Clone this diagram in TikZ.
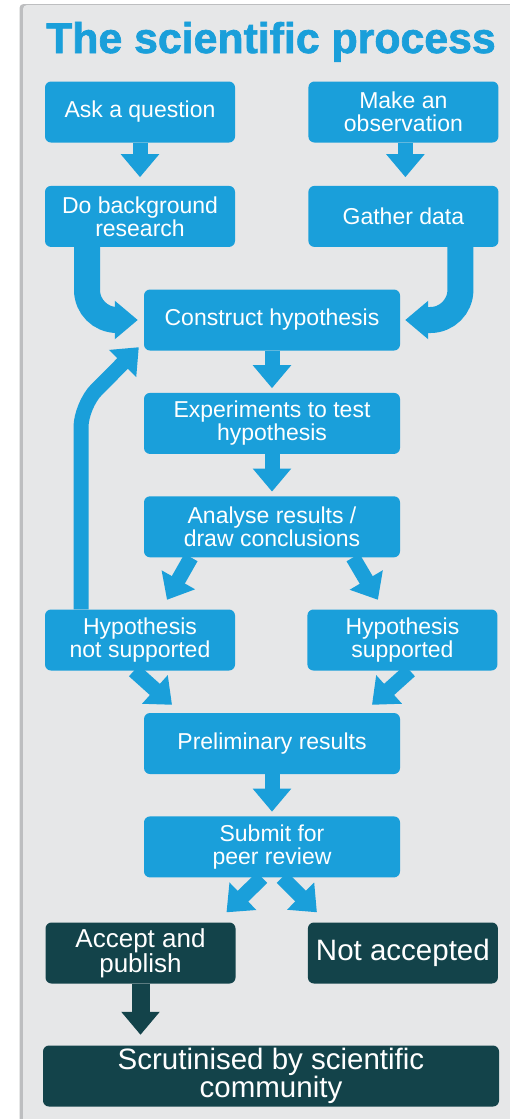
\documentclass[tikz,border=0pt]{standalone}
\usepackage{fontspec}
\setmainfont{Liberation Sans}
\newfontfamily\titlefont[BoldFeatures={FakeBold=1.6}]{Liberation Sans}
\usetikzlibrary{positioning,arrows.meta,calc}
\definecolor{sciblue}{HTML}{1A9FDA}
\definecolor{sciteal}{HTML}{13434A}
\definecolor{panelgray}{HTML}{E6E7E8}
\definecolor{paneledge}{HTML}{BDBEC0}

\begin{document}
\begin{tikzpicture}[x=1pt,y=-1pt,
  box/.style={fill=sciblue,text=white,rounded corners=6pt,inner sep=0pt,align=center,
    minimum width=190pt,minimum height=61pt,font=\fontsize{23}{23}\selectfont},
  wide/.style={minimum width=256pt},
  darkbox/.style={box,fill=sciteal,font=\fontsize{26}{22}\selectfont},
  flow/.style={draw=sciblue,line width=15pt,-{Triangle[width=37pt,length=23pt]}},
  curvedflow/.style={flow,line width=26pt,rounded corners=30pt},
  darkflow/.style={flow,draw=sciteal,line width=18pt}]
\useasboundingbox (0,0) rectangle (509,1119);
\fill[white] (0,0) rectangle (509,1119);
\fill[paneledge,rounded corners=4pt] (19.5,4) rectangle (530,1130);
\fill[panelgray,rounded corners=4pt] (23,5) rectangle (530,1130);

\node[anchor=base west,inner sep=0pt,text=sciblue,font=\titlefont\bfseries\fontsize{42.8}{44}\selectfont] (title) at (46,53) {The scientific process};

\node[box] (ask) at (140,112) {Ask a question};
\node[box,right=73pt of ask] (observe) {Make an\\observation};
\node[box,below=43pt of ask] (background) {Do background\\research};
\node[box,below=43pt of observe] (gather) {Gather data};
\node[box,wide] (construct) at (272,320) {Construct hypothesis};
\node[box,wide,below=42pt of construct] (experiments) {Experiments to test\\hypothesis};
\node[box,wide,below=42pt of experiments] (analyse) {Analyse results /\\draw conclusions};
\node[box] (notsupp) at (140,640) {Hypothesis\\not supported};
\node[box,right=72pt of notsupp] (supp) {Hypothesis\\supported};
\node[box,wide] (prelim) at (272,743.5) {Preliminary results};
\node[box,wide,below=42pt of prelim] (submit) {Submit for\\peer review};
\node[darkbox] (accept) at (140.5,953) {Accept and\\publish};
\node[darkbox,right=72pt of accept,font=\fontsize{29.5}{29.5}\selectfont] (notacc) {Not accepted};
\node[darkbox,minimum width=456pt,font=\fontsize{29.5}{21.5}\selectfont] (scrut) at (271,1076) {Scrutinised by scientific\\community};

\coordinate (backtip) at ([xshift=-5pt,yshift=3.5pt]construct.south west);

\draw[flow,shorten >=8.5pt] (ask) -- (background);
\draw[flow,shorten >=8.5pt] ([xshift=2pt]observe.south) -- ([xshift=2pt]gather.north);
\draw[curvedflow,shorten >=6pt] ([xshift=-53pt]background.south) |- (construct.west);
\draw[curvedflow,shorten >=5pt] ([xshift=57pt]gather.south) |- (construct.east);
\draw[flow,shorten >=4.5pt] (construct) -- (experiments);
\draw[flow,shorten >=4.5pt] (experiments) -- (analyse);
\draw[flow] ([xshift=-81pt]analyse.south) -- ([xshift=27pt,yshift=9.5pt]notsupp.north);
\draw[flow] ([xshift=81pt]analyse.south) -- ([xshift=-24.5pt,yshift=9.5pt]supp.north);
\draw[flow,rounded corners=22pt] ([xshift=-59pt]notsupp.north) -- ++(0,-204) -- (backtip);
\draw[flow] ([xshift=-6pt]notsupp.south) -- ([xshift=-100pt,yshift=8pt]prelim.north);
\draw[flow] ([xshift=7.5pt]supp.south) -- ([xshift=100pt,yshift=8pt]prelim.north);
\draw[flow,shorten >=4.5pt] (prelim) -- (submit);
\draw[flow] ([xshift=-10pt]submit.south) -- ([xshift=86pt,yshift=10pt]accept.north);
\draw[flow] ([xshift=10pt]submit.south) -- ([xshift=-86pt,yshift=10pt]notacc.north);
\draw[darkflow,shorten >=10.5pt] (accept.south) -- (accept.south |- scrut.north);
\end{tikzpicture}
\end{document}
